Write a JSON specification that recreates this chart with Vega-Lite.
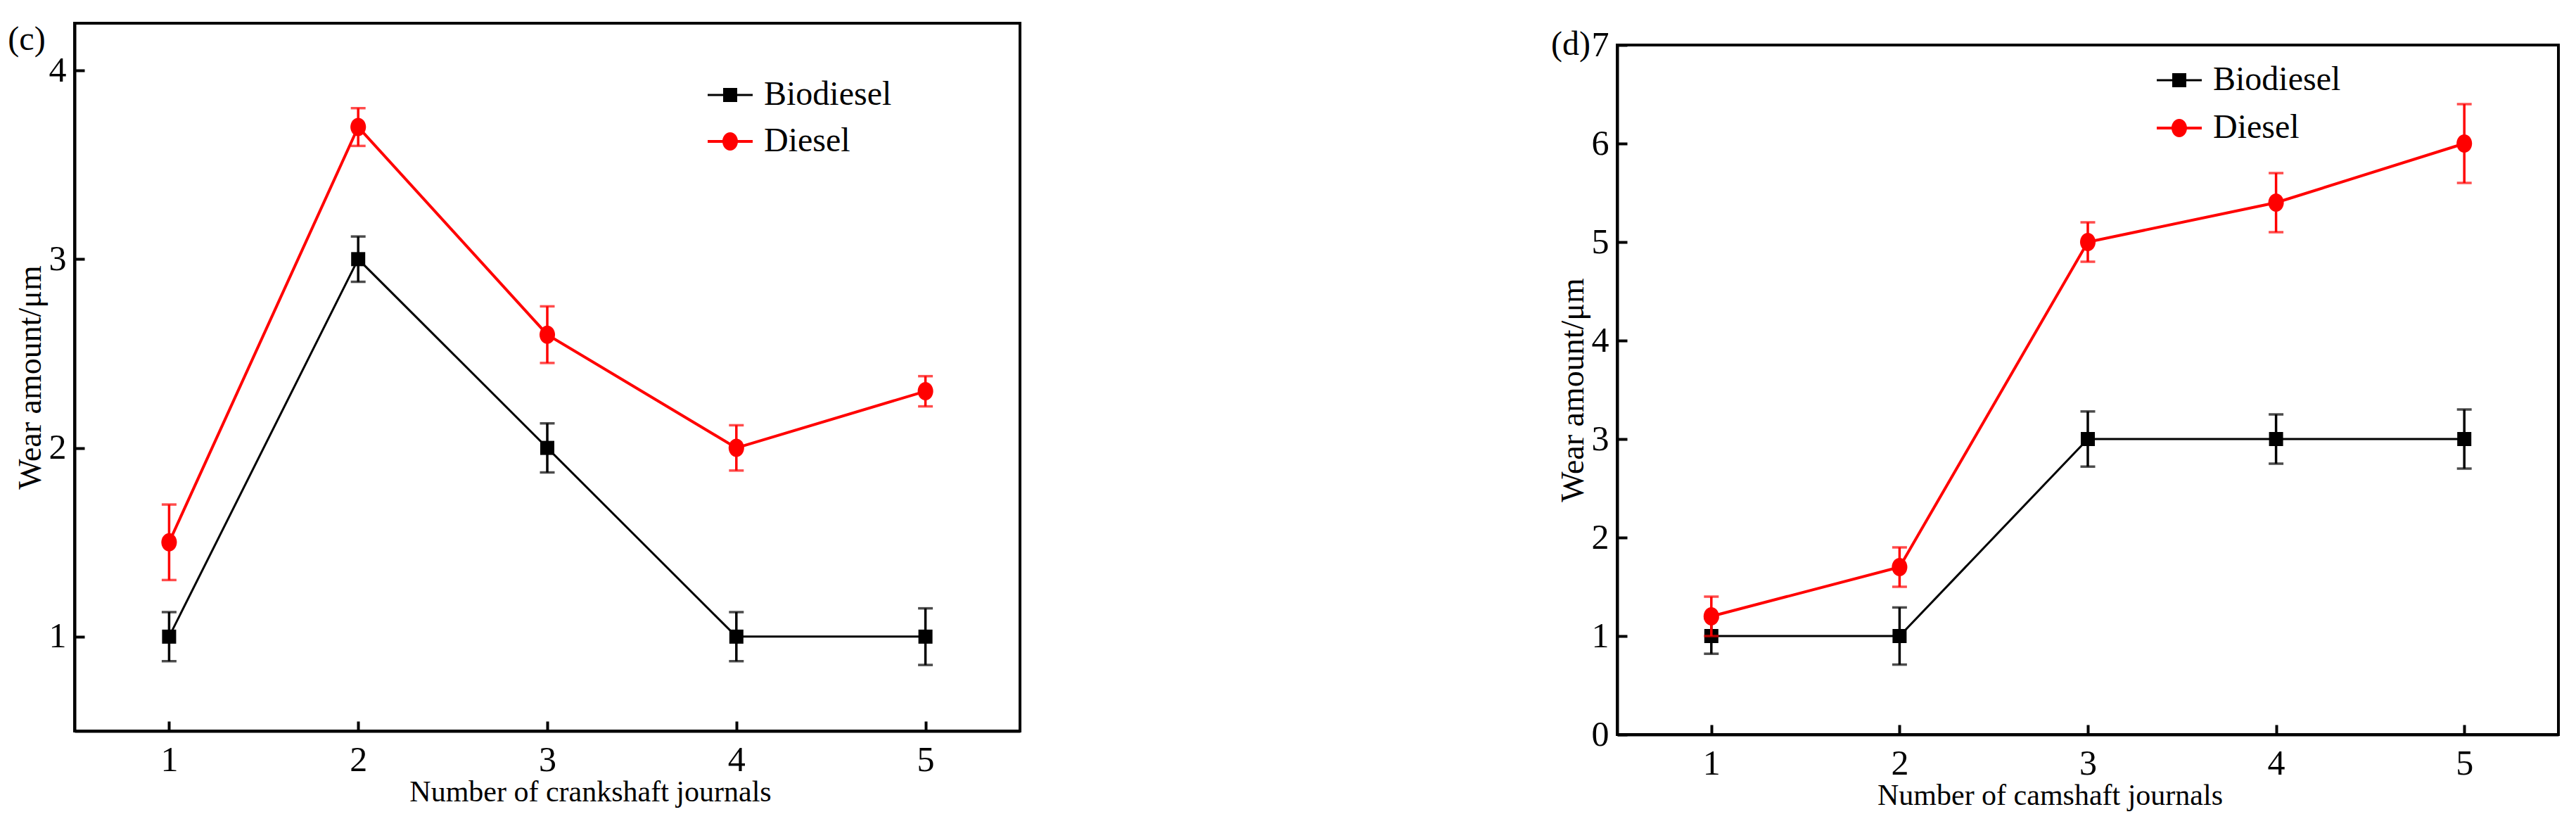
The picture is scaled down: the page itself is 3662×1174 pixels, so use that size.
{
  "$schema": "https://vega.github.io/schema/vega-lite/v6.json",
  "background": "white",
  "padding": {"left": 9, "top": 30, "right": 0, "bottom": 0},
  "spacing": 751,
  "config": {
    "font": "Liberation Serif",
    "view": {"stroke": "black", "strokeWidth": 4},
    "axis": {
      "grid": false, "domainColor": "black", "domainWidth": 4,
      "tickColor": "black", "tickWidth": 4, "tickSize": -14,
      "labelFont": "Liberation Serif", "labelFontSize": 50, "labelColor": "black",
      "titleFont": "Liberation Serif", "titleFontWeight": "normal", "titleColor": "black"
    },
    "axisX": {"labelPadding": 30, "titlePadding": 0, "titleFontSize": 42},
    "axisY": {"labelPadding": 26, "titlePadding": 2, "titleFontSize": 46},
    "legend": {
      "title": null, "orient": "none", "symbolSize": 4096, "symbolStrokeWidth": 0,
      "labelFont": "Liberation Serif", "labelFontSize": 48, "labelColor": "black",
      "labelOffset": 16, "labelLimit": 0
    }
  },
  "datasets": {
    "crank": [
      {"journal": 1, "series": "Biodiesel", "wear": 1.0, "err": 0.13},
      {"journal": 2, "series": "Biodiesel", "wear": 3.0, "err": 0.12},
      {"journal": 3, "series": "Biodiesel", "wear": 2.0, "err": 0.13},
      {"journal": 4, "series": "Biodiesel", "wear": 1.0, "err": 0.13},
      {"journal": 5, "series": "Biodiesel", "wear": 1.0, "err": 0.15},
      {"journal": 1, "series": "Diesel", "wear": 1.5, "err": 0.2},
      {"journal": 2, "series": "Diesel", "wear": 3.7, "err": 0.1},
      {"journal": 3, "series": "Diesel", "wear": 2.6, "err": 0.15},
      {"journal": 4, "series": "Diesel", "wear": 2.0, "err": 0.12},
      {"journal": 5, "series": "Diesel", "wear": 2.3, "err": 0.08}
    ],
    "cam": [
      {"journal": 1, "series": "Biodiesel", "wear": 1.0, "err": 0.18},
      {"journal": 2, "series": "Biodiesel", "wear": 1.0, "err": 0.29},
      {"journal": 3, "series": "Biodiesel", "wear": 3.0, "err": 0.28},
      {"journal": 4, "series": "Biodiesel", "wear": 3.0, "err": 0.25},
      {"journal": 5, "series": "Biodiesel", "wear": 3.0, "err": 0.3},
      {"journal": 1, "series": "Diesel", "wear": 1.2, "err": 0.2},
      {"journal": 2, "series": "Diesel", "wear": 1.7, "err": 0.2},
      {"journal": 3, "series": "Diesel", "wear": 5.0, "err": 0.2},
      {"journal": 4, "series": "Diesel", "wear": 5.4, "err": 0.3},
      {"journal": 5, "series": "Diesel", "wear": 6.0, "err": 0.4}
    ]
  },
  "resolve": {
    "scale": {"x": "independent", "y": "independent", "color": "independent", "fill": "independent"},
    "legend": {"color": "independent", "fill": "independent"}
  },
  "hconcat": [
    {
      "width": 1344, "height": 1006,
      "layer": [
        {
          "data": {"name": "crank"},
          "encoding": {
            "x": {"field": "journal", "type": "quantitative", "scale": {"domain": [0.5, 5.5], "nice": false, "zero": false},
                  "axis": {"values": [1, 2, 3, 4, 5], "format": "d", "title": "Number of crankshaft journals", "titleX": 733}},
            "y": {"field": "wear", "type": "quantitative", "scale": {"domain": [0.5, 4.25], "nice": false, "zero": false},
                  "axis": {"values": [1, 2, 3, 4], "format": "d", "title": "Wear amount/μm"}}
          },
          "layer": [
            {"transform": [{"filter": "datum.series === 'Biodiesel'"}],
             "mark": {"type": "line", "color": "#000000", "strokeWidth": 3}},
            {"transform": [{"filter": "datum.series === 'Biodiesel'"}],
             "mark": {"type": "errorbar", "color": "#000000", "ticks": {"size": 21, "thickness": 3.5}, "rule": {"strokeWidth": 3.5}},
             "encoding": {"yError": {"field": "err"}}},
            {"transform": [{"filter": "datum.series === 'Biodiesel'"}],
             "mark": {"type": "point", "filled": true, "size": 676, "opacity": 1, "strokeWidth": 0, "shape": "M-0.77,-0.77H0.77V0.77H-0.77Z"},
             "encoding": {"fill": {"field": "series", "type": "nominal", "scale": {"domain": ["Biodiesel"], "range": ["#000000"]},
                                   "legend": {"legendX": 900, "legendY": 70,
                                              "symbolType": "M-1,-0.047H-0.3V0.047H-1Z M0.3,-0.047H1V0.047H0.3Z M-0.3125,-0.3125H0.3125V0.3125H-0.3125Z"}}}},
            {"transform": [{"filter": "datum.series === 'Diesel'"}],
             "mark": {"type": "line", "color": "#ff0000", "strokeWidth": 4}},
            {"transform": [{"filter": "datum.series === 'Diesel'"}],
             "mark": {"type": "errorbar", "color": "#ff0000", "ticks": {"size": 21, "thickness": 3.5}, "rule": {"strokeWidth": 3.5}},
             "encoding": {"yError": {"field": "err"}}},
            {"transform": [{"filter": "datum.series === 'Diesel'"}],
             "mark": {"type": "point", "filled": true, "size": 676, "opacity": 1, "strokeWidth": 0, "shape": "M0.85,0A0.85,1 0 1,1 -0.85,0A0.85,1 0 1,1 0.85,0Z"},
             "encoding": {"color": {"field": "series", "type": "nominal", "scale": {"domain": ["Diesel"], "range": ["#ff0000"]},
                                    "legend": {"legendX": 900, "legendY": 136,
                                               "symbolType": "M-1,-0.0625H-0.33V0.0625H-1Z M0.33,-0.0625H1V0.0625H0.33Z M0.344,0A0.344,0.406 0 1,1 -0.344,0A0.344,0.406 0 1,1 0.344,0Z"}}}}
          ]
        },
        {
          "data": {"values": [{}]},
          "mark": {"type": "text", "fontSize": 48, "font": "Liberation Serif", "color": "black", "align": "center", "baseline": "middle", "dx": -68, "dy": 24},
          "encoding": {"x": {"datum": 0.5, "type": "quantitative"}, "y": {"datum": 4.25, "type": "quantitative"}, "text": {"value": "(c)"}}
        }
      ]
    },
    {
      "spacing": 0,
      "vconcat": [
        {"width": 1338, "height": 1, "view": {"stroke": null},
         "data": {"values": [{"a": 1}]},
         "mark": {"type": "point", "opacity": 0},
         "encoding": {"x": {"field": "a", "type": "quantitative", "axis": null}}},
        {
          "width": 1338, "height": 980,
          "layer": [
            {
              "data": {"name": "cam"},
              "encoding": {
                "x": {"field": "journal", "type": "quantitative", "scale": {"domain": [0.5, 5.5], "nice": false, "zero": false},
                      "axis": {"values": [1, 2, 3, 4, 5], "format": "d", "title": "Number of camshaft journals", "titleX": 615}},
                "y": {"field": "wear", "type": "quantitative", "scale": {"domain": [0, 7], "nice": false, "zero": false},
                      "axis": {"values": [0, 1, 2, 3, 4, 5, 6, 7], "format": "d", "title": "Wear amount/μm"}}
              },
              "layer": [
                {"transform": [{"filter": "datum.series === 'Biodiesel'"}],
                 "mark": {"type": "line", "color": "#000000", "strokeWidth": 3}},
                {"transform": [{"filter": "datum.series === 'Biodiesel'"}],
                 "mark": {"type": "errorbar", "color": "#000000", "ticks": {"size": 21, "thickness": 3.5}, "rule": {"strokeWidth": 3.5}},
                 "encoding": {"yError": {"field": "err"}}},
                {"transform": [{"filter": "datum.series === 'Biodiesel'"}],
                 "mark": {"type": "point", "filled": true, "size": 676, "opacity": 1, "strokeWidth": 0, "shape": "M-0.77,-0.77H0.77V0.77H-0.77Z"},
                 "encoding": {"fill": {"field": "series", "type": "nominal", "scale": {"domain": ["Biodiesel"], "range": ["#000000"]},
                                       "legend": {"legendX": 767, "legendY": 49,
                                                  "symbolType": "M-1,-0.047H-0.3V0.047H-1Z M0.3,-0.047H1V0.047H0.3Z M-0.3125,-0.3125H0.3125V0.3125H-0.3125Z"}}}},
                {"transform": [{"filter": "datum.series === 'Diesel'"}],
                 "mark": {"type": "line", "color": "#ff0000", "strokeWidth": 4}},
                {"transform": [{"filter": "datum.series === 'Diesel'"}],
                 "mark": {"type": "errorbar", "color": "#ff0000", "ticks": {"size": 21, "thickness": 3.5}, "rule": {"strokeWidth": 3.5}},
                 "encoding": {"yError": {"field": "err"}}},
                {"transform": [{"filter": "datum.series === 'Diesel'"}],
                 "mark": {"type": "point", "filled": true, "size": 676, "opacity": 1, "strokeWidth": 0, "shape": "M0.85,0A0.85,1 0 1,1 -0.85,0A0.85,1 0 1,1 0.85,0Z"},
                 "encoding": {"color": {"field": "series", "type": "nominal", "scale": {"domain": ["Diesel"], "range": ["#ff0000"]},
                                        "legend": {"legendX": 767, "legendY": 117,
                                                   "symbolType": "M-1,-0.0625H-0.33V0.0625H-1Z M0.33,-0.0625H1V0.0625H0.33Z M0.344,0A0.344,0.406 0 1,1 -0.344,0A0.344,0.406 0 1,1 0.344,0Z"}}}}
              ]
            },
            {
              "data": {"values": [{}]},
              "mark": {"type": "text", "fontSize": 48, "font": "Liberation Serif", "color": "black", "align": "center", "baseline": "middle", "dx": -66, "dy": 0},
              "encoding": {"x": {"datum": 0.5, "type": "quantitative"}, "y": {"datum": 7, "type": "quantitative"}, "text": {"value": "(d)"}}
            }
          ]
        }
      ]
    }
  ]
}
